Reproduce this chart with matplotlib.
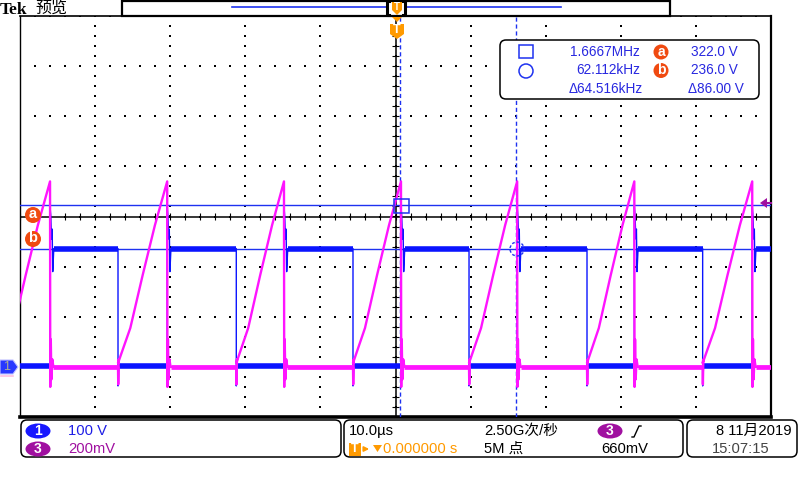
import numpy as np
import matplotlib.pyplot as plt
from matplotlib import font_manager
from matplotlib.patches import FancyBboxPatch, Rectangle, Circle, Ellipse, Polygon

_names = {f.name for f in font_manager.fontManager.ttflist}
HAS_NARROW = 'Liberation Sans Narrow' in _names
NARROW = 'Liberation Sans Narrow' if HAS_NARROW else 'Liberation Sans'
BSIZE = 11.5 if HAS_NARROW else 10.6
plt.rcParams['font.family'] = ['Liberation Sans', 'Noto Sans CJK SC', 'DejaVu Sans']

# 时间轴: 10 µs/div, 屏幕 -50 .. 50 µs
t_rise = [-46.0, -30.4, -14.85, 0.73, 16.2, 31.8, 47.5]      # CH1 上升沿 (锯齿顶点), µs
t_fall = [-52.5, -36.95, -21.2, -5.66, 9.79, 25.5, 40.9]     # CH1 下降沿 (锯齿起点), µs

# CH1: 100 V/div, 地线在 -3 div
ch1_low = 2.0
ch1_high = 236.0
ch1_ring_dt = [0.0, 0.1, 0.2, 0.28, 0.36, 0.5]
ch1_ring_v = [320.0, 300.0, 255.0, 275.0, 190.0, 236.0]
ch1_under = -38.0

# CH3: 200 mV/div, 地线在 -3 div
ch3_ramp_frac = [0.0, 0.25, 0.5, 0.75, 1.0]
ch3_ramp_mv = [15.0, 155.0, 365.0, 565.0, 740.0]
ch3_drop_dt = [0.03, 0.1, 0.18, 0.3, 0.45]
ch3_drop_mv = [-80.0, 110.0, -50.0, 30.0, 0.0]
ch3_trig_mv = 660.0

# 光标
cur_a_v, cur_b_v = 322.0, 236.0
cur_t1, cur_t2 = 0.6, 16.1

meas_left = ['1.6667MHz', '62.112kHz', '\u039464.516kHz']
meas_right = ['322.0 V', '236.0 V', '\u039486.00 V']

BLUE = '#0a14ff'
MAG = '#ff14ff'
PURP = '#a010a0'
ORG = '#ff9a00'
RED = '#f04a10'
CUR = '#1e32f0'


def d1(v):
    return np.asarray(v) / 100.0 - 3.0


def d3(mv):
    return np.asarray(mv) / 200.0 - 3.0


fig = plt.figure(figsize=(8, 4.8), dpi=100)
ax = fig.add_axes([20 / 800, 1 - 417 / 480, 751 / 800, 401 / 480], zorder=2)
ax.set_xlim(-50, 50)
ax.set_ylim(-4, 4)
ax.set_xticks([])
ax.set_yticks([])
for s, w in [('left', 1.0), ('top', 1.2), ('bottom', 2.6), ('right', 1.6)]:
    ax.spines[s].set_linewidth(w)
    ax.spines[s].set_color('k')

# 网格点
for gx in range(-50, 51, 10):
    yy = np.arange(-4, 4.001, 0.2)
    ax.scatter(np.full_like(yy, gx), yy, s=0.9, marker='s', c='k', lw=0, zorder=1)
for gy in range(-4, 5):
    xx = np.arange(-50, 50.001, 2)
    ax.scatter(xx, np.full_like(xx, gy), s=0.9, marker='s', c='k', lw=0, zorder=1)
# 中心线及刻度
ax.axhline(0, color='k', lw=1.1, zorder=1)
ax.axvline(0, color='k', lw=1.1, zorder=1)
ax.vlines(np.arange(-50, 50.001, 2), -0.07, 0.07, color='k', lw=0.8, zorder=1)
ax.hlines(np.arange(-4, 4.001, 0.2), -0.45, 0.45, color='k', lw=0.8, zorder=1)

# 光标线
ax.axhline(d1(cur_a_v), color=CUR, lw=1.0, zorder=3)
ax.axhline(d1(cur_b_v), color=CUR, lw=1.0, zorder=3)
ax.axvline(cur_t1, color=CUR, lw=1.0, ls=(0, (3, 2)), zorder=3)
ax.axvline(cur_t2, color=CUR, lw=1.0, ls=(0, (3, 2)), zorder=3)

# CH1 波形
t1, v1 = [-51.0], [ch1_low]
hi_seg, lo_seg = [], [(-51.0, t_rise[0])]
for i, r in enumerate(t_rise):
    t1 += [r] + [r + dt for dt in ch1_ring_dt]
    v1 += [ch1_low] + ch1_ring_v
    f = t_fall[i + 1] if i + 1 < len(t_fall) else 51.0
    hi_seg.append((r + ch1_ring_dt[-1], f))
    if i + 1 < len(t_fall):
        t1 += [f, f, f + 0.12]
        v1 += [ch1_high, ch1_under, ch1_low]
        nr = t_rise[i + 1] if i + 1 < len(t_rise) else 51.0
        lo_seg.append((f + 0.12, nr))
    else:
        t1 += [51.0]
        v1 += [ch1_high]
ax.plot(t1, d1(v1), color=BLUE, lw=1.0, zorder=4)
for a, b in hi_seg:
    ax.plot([a, b], d1([ch1_high, ch1_high]), color=BLUE, lw=4.0, solid_capstyle='butt', zorder=4)
for a, b in lo_seg:
    ax.plot([a, b], d1([ch1_low, ch1_low]), color=BLUE, lw=4.0, solid_capstyle='butt', zorder=4)

# CH3 波形
t3, v3 = [], []
base_seg = []
for i, (f, r) in enumerate(zip(t_fall, t_rise)):
    if i > 0:
        t3 += [f, f + 0.03, f + 0.09]
        v3 += [0.0, -70.0, 30.0]
    t3 += [f + fr * (r - f) for fr in ch3_ramp_frac]
    v3 += ch3_ramp_mv
    t3 += [r + dt for dt in ch3_drop_dt]
    v3 += ch3_drop_mv
    nf = t_fall[i + 1] if i + 1 < len(t_fall) else 51.0
    base_seg.append((r + ch3_drop_dt[-1], nf))
t3 += [51.0]
v3 += [0.0]
ax.plot(t3, d3(v3), color=MAG, lw=1.7, zorder=5)
for a, b in base_seg:
    ax.plot([a, b], d3([0.0, 0.0]), color=MAG, lw=3.4, solid_capstyle='butt', zorder=5)

# 覆盖层 (像素坐标)
ov = fig.add_axes([0, 0, 1, 1], zorder=6)
ov.set_xlim(0, 800)
ov.set_ylim(480, 0)
ov.axis('off')

ov.text(0, 14.5, 'Tek', family=['Liberation Serif', 'DejaVu Serif'], fontweight='bold',
        fontsize=12.5, va='baseline', ha='left', color='k')
ov.text(35, 8.5, '预览', family=['Noto Sans CJK SC', 'DejaVu Sans'], fontweight='light',
        fontsize=11.5, va='center', ha='left', color='k')

# 顶部记录条
ov.add_patch(Rectangle((122, 0.5), 548, 15, fc='white', ec='k', lw=1.6))
ov.plot([232, 387], [7, 7], color=CUR, lw=1.2)
ov.plot([406, 561], [7, 7], color=CUR, lw=1.2)
ov.plot([389, 387, 387, 389], [1, 1, 15, 15], color='k', lw=2.2)
ov.plot([403, 405, 405, 403], [1, 1, 15, 15], color='k', lw=2.2)
ov.add_patch(Polygon([(392, 2), (402, 2), (402, 10), (397, 15), (392, 10)], closed=True, fc=ORG, ec='none'))
ov.text(397, 7, 'T', color='white', fontsize=7, fontweight='bold', ha='center', va='center')

# 触发位置标记
ov.add_patch(Polygon([(392, 17), (402, 17), (397, 22)], closed=True, fc=ORG, ec='none'))
ov.add_patch(Polygon([(390, 24), (404, 24), (404, 34), (397, 39), (390, 34)], closed=True, fc=ORG, ec='none'))
ov.text(397, 30, 'T', color='white', fontsize=9, fontweight='bold', ha='center', va='center')

# 测量框
ov.add_patch(FancyBboxPatch((500, 40), 259, 59, boxstyle='round,pad=0,rounding_size=6',
                            fc='white', ec='k', lw=1.1))
ov.add_patch(Rectangle((519, 45), 14, 13, fc='none', ec=CUR, lw=1.1))
ov.add_patch(Circle((526, 71), 7, fc='none', ec=CUR, lw=1.1))
for k, (sl, sr) in enumerate(zip(meas_left, meas_right)):
    y = 52 + 18.5 * k
    ov.text(640 if k < 2 else 643, y, sl, color='#2828e0', fontsize=9.8, ha='right', va='center')
    ov.text(738 if k < 2 else 744, y, sr, color='#2828e0', fontsize=9.8, ha='right', va='center')
for k, lab in enumerate(['a', 'b']):
    y = 52 + 18.5 * k
    ov.add_patch(Circle((661, y), 7.5, fc=RED, ec='none'))
    ov.text(661, y - 0.5, lab, color='white', fontsize=10, fontweight='bold', ha='center', va='center')

# 光标标记
ov.add_patch(Rectangle((394, 199), 15, 14, fc='none', ec=CUR, lw=1.1))
ov.add_patch(Circle((517, 249), 7, fc='none', ec=CUR, lw=1.0, ls=(0, (2, 1.5))))
for lab, y in [('a', 215), ('b', 239)]:
    ov.add_patch(Circle((33, y), 8, fc=RED, ec='none'))
    ov.text(33, y - 0.5, lab, color='white', fontsize=10.5, fontweight='bold', ha='center', va='center')

# CH1 地线标记
ov.add_patch(Polygon([(0, 360), (13, 360), (18, 367), (13, 374), (0, 374)], closed=True,
                     fc='#2838ff', ec='#c0c0ff', lw=0.8))
ov.plot([1, 13], [375.5, 375.5], color='#ffc0e0', lw=1.2)
ov.text(7, 367, '1', color='#b0b090', fontsize=9, ha='center', va='center')

# CH3 触发电平
ov.add_patch(Polygon([(760, 203), (767, 198), (767, 208)], closed=True, fc=PURP, ec='none'))
ov.plot([767, 771], [203, 203], color=PURP, lw=1.5)

# 底部信息栏
for x0, x1 in [(21, 341), (344, 683), (687, 797)]:
    ov.add_patch(FancyBboxPatch((x0, 420), x1 - x0, 37, boxstyle='round,pad=0,rounding_size=6',
                                fc='white', ec='k', lw=1.1))
BF = [NARROW, 'Liberation Sans', 'Noto Sans CJK SC', 'DejaVu Sans']
ov.add_patch(Ellipse((38, 431), 25, 15, fc='#1818ff', ec='none'))
ov.text(38, 431, '1', color='white', fontsize=10, fontweight='bold', ha='center', va='center')
ov.add_patch(Ellipse((38, 449), 25, 15, fc=PURP, ec='none'))
ov.text(38, 449, '3', color='white', fontsize=10, fontweight='bold', ha='center', va='center')
ov.text(68, 431, '100 V', color='#1e1ee6', fontsize=BSIZE, family=BF, ha='left', va='center')
ov.text(68, 449, '200mV', color=PURP, fontsize=BSIZE, family=BF, ha='left', va='center')

ov.text(349, 431, '10.0\u00b5s', color='k', fontsize=BSIZE, family=BF, ha='left', va='center')
ov.add_patch(Rectangle((349, 443), 12, 13, fc=ORG, ec='none'))
ov.text(355, 449.5, 'T', color='white', fontsize=9, fontweight='bold', ha='center', va='center')
ov.annotate('', xy=(372, 449), xytext=(362, 449),
            arrowprops=dict(arrowstyle='-|>', color=ORG, lw=1.3, mutation_scale=7))
ov.add_patch(Polygon([(373, 445), (382, 445), (377.5, 452)], closed=True, fc=ORG, ec='none'))
ov.text(383, 449, '0.000000 s', color=ORG, fontsize=BSIZE, family=BF, ha='left', va='center')
ov.text(484, 431, '2.50G次/秒', color='k', fontsize=BSIZE, family=BF, ha='left', va='center')
ov.text(484, 449, '5M 点', color='k', fontsize=BSIZE, family=BF, ha='left', va='center')
ov.add_patch(Ellipse((610, 431), 25, 15, fc=PURP, ec='none'))
ov.text(610, 431, '3', color='white', fontsize=10, fontweight='bold', ha='center', va='center')
ov.plot([632, 634, 639, 641], [437, 437, 426, 426], color='k', lw=1.0)
ov.text(601, 449, '660mV', color='k', fontsize=BSIZE, family=BF, ha='left', va='center')

ov.text(792, 431, '8 11月2019', color='k', fontsize=BSIZE, family=BF, ha='right', va='center')
ov.text(712, 449, '15:07:15', color='#444444', fontsize=BSIZE, family=BF, ha='left', va='center')

fig.savefig('out.png', dpi=100, facecolor='white')
